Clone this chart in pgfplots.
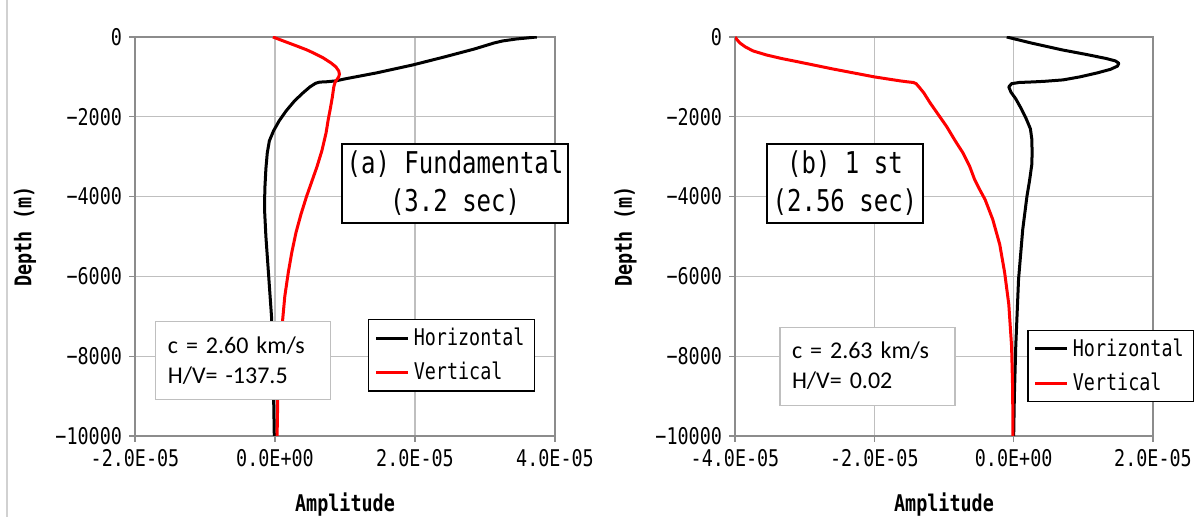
\documentclass[border=0pt]{standalone}
\usepackage{fontspec}
\setmainfont{DejaVu Sans Mono}[FakeStretch=0.8]
\newfontfamily\calfont{Carlito}
\usepackage{pgfplots}
\pgfplotsset{compat=1.18}

\pgfplotsset{
  depthax/.style={
    scale only axis, height=199.5pt, clip mode=individual,
    scaled x ticks=false, scaled y ticks=false,
    ymin=-10000, ymax=0,
    ytick={-10000,-8000,...,0},
    yticklabels={−10000,−8000,−6000,−4000,−2000,0},
    grid=major, major grid style={black!25, line width=0.6pt},
    axis line style={black!45, line width=0.6pt},
    tick style={black!45, line width=0.6pt},
    tick align=outside, major tick length=3pt,
    xtick pos=bottom, ytick pos=left,
    ticklabel style={font=\fontsize{11.5}{13}\selectfont},
    label style={font=\bfseries\fontsize{11.5}{13}\selectfont},
    xlabel={Amplitude}, ylabel={Depth (m)},
    xlabel style={at={(rel axis cs:0.5,-0.173)}, anchor=center},
    ylabel style={at={(rel axis cs:-0.262,0.5)}, anchor=center},
    legend cell align=left,
    legend style={draw=black, line width=0.7pt, fill=white,
      font=\fontsize{11.5}{13}\selectfont, inner xsep=3pt, inner ysep=2pt,
      row sep=3pt, anchor=north west},
    legend image code/.code={\draw[#1] (0pt,0pt) -- (16pt,0pt);},
    every axis plot/.append style={line width=1.5pt, line join=round},
  },
}
\tikzset{
  titlebox/.style={draw=black, line width=1pt, fill=white, align=center,
    font=\fontsize{15}{19}\selectfont, inner sep=0pt},
  cbox/.style={draw=black!25, line width=0.6pt, fill=white, align=left,
    font=\calfont\fontsize{12}{15}\selectfont, inner xsep=6pt, inner ysep=0pt,
    text width=75.5pt, minimum height=39pt},
}

\begin{document}
\begin{tikzpicture}
\path[use as bounding box] (0,0) rectangle (601.5pt,258.5pt);
\draw[black!18, line width=0.6pt] (3.5pt,0) -- (3.5pt,258.5pt);

% (a) fundamental mode
\begin{axis}[depthax, at={(67.5pt,40.5pt)}, anchor=south west,
  width=210pt,
  xmin=-2e-5, xmax=4e-5,
  xtick={-2e-5,0,2e-5,4e-5},
  xticklabels={-2.0E-05,0.0E+00,2.0E-05,4.0E-05},
  legend style={at={(0.555,0.293)}},
]
\addplot[black] coordinates {
  (3.74e-5,0) (3.45e-5,-50) (3.25e-5,-100) (3.13e-5,-150) (2.85e-5,-300)
  (2.42e-5,-500) (1.97e-5,-700) (1.45e-5,-900) (1.00e-5,-1050)
  (0.87e-5,-1100) (0.72e-5,-1125) (0.64e-5,-1130) (0.58e-5,-1160)
  (0.50e-5,-1250) (0.40e-5,-1400) (0.28e-5,-1600) (0.16e-5,-1850)
  (0.06e-5,-2100) (-0.02e-5,-2350) (-0.08e-5,-2600) (-0.11e-5,-2900)
  (-0.13e-5,-3300) (-0.145e-5,-3800) (-0.15e-5,-4300) (-0.13e-5,-5000)
  (-0.09e-5,-6000) (-0.05e-5,-7000) (-0.03e-5,-8000)
  (-0.02e-5,-9000) (-0.01e-5,-10000)
};
\addlegendentry{Horizontal}
\addplot[red] coordinates {
  (-0.03e-5,0) (0.12e-5,-100) (0.31e-5,-225) (0.45e-5,-320) (0.55e-5,-400)
  (0.69e-5,-525) (0.80e-5,-650) (0.87e-5,-750) (0.91e-5,-850)
  (0.92e-5,-930) (0.91e-5,-1000) (0.88e-5,-1080) (0.86e-5,-1125)
  (0.84e-5,-1250) (0.82e-5,-1500) (0.79e-5,-1800) (0.76e-5,-2075)
  (0.73e-5,-2400) (0.67e-5,-2850) (0.60e-5,-3250) (0.53e-5,-3600)
  (0.45e-5,-4000) (0.37e-5,-4450) (0.30e-5,-4900) (0.24e-5,-5400)
  (0.19e-5,-5900) (0.14e-5,-6500) (0.11e-5,-7075) (0.07e-5,-8000)
  (0.04e-5,-9000) (0.03e-5,-10000)
};
\addlegendentry{Vertical}
\node[titlebox, minimum width=113pt, minimum height=39.5pt]
  at (rel axis cs:0.762,0.633) {(a) Fundamental\\(3.2 sec)};
\node[cbox] at (rel axis cs:0.258,0.19) {c = 2.60 km/s\\H/V= -137.5};
\end{axis}

% (b) first higher mode
\begin{axis}[depthax, at={(367.5pt,40.5pt)}, anchor=south west,
  width=209pt,
  xmin=-4e-5, xmax=2e-5,
  xtick={-4e-5,-2e-5,0,2e-5},
  xticklabels={-4.0E-05,-2.0E-05,0.0E+00,2.0E-05},
  legend style={at={(0.699,0.266)}},
]
\addplot[black] coordinates {
  (-0.10e-5,0) (0.25e-5,-150) (0.70e-5,-325) (1.05e-5,-440) (1.33e-5,-540)
  (1.46e-5,-600) (1.51e-5,-660) (1.49e-5,-730) (1.39e-5,-810)
  (1.20e-5,-900) (0.95e-5,-1000) (0.71e-5,-1075) (0.45e-5,-1110)
  (0.29e-5,-1125) (0.08e-5,-1140) (-0.03e-5,-1170) (-0.07e-5,-1250)
  (-0.04e-5,-1380) (0.03e-5,-1550) (0.11e-5,-1800) (0.18e-5,-2050)
  (0.24e-5,-2300) (0.26e-5,-2550) (0.265e-5,-2900) (0.26e-5,-3200)
  (0.23e-5,-3575) (0.19e-5,-4000) (0.13e-5,-4825) (0.07e-5,-6075)
  (0.03e-5,-7750) (0.01e-5,-9000) (0.00e-5,-10000)
};
\addlegendentry{Horizontal}
\addplot[red] coordinates {
  (-4.00e-5,0) (-3.98e-5,-50) (-3.93e-5,-150) (-3.85e-5,-250)
  (-3.74e-5,-350) (-3.55e-5,-450) (-3.33e-5,-540) (-3.11e-5,-617)
  (-2.85e-5,-710) (-2.60e-5,-800) (-2.30e-5,-900) (-2.00e-5,-1000)
  (-1.63e-5,-1100) (-1.52e-5,-1125) (-1.44e-5,-1140) (-1.40e-5,-1170)
  (-1.36e-5,-1250) (-1.29e-5,-1400) (-1.20e-5,-1650) (-1.10e-5,-1900)
  (-0.96e-5,-2250) (-0.84e-5,-2600) (-0.73e-5,-2900) (-0.63e-5,-3250)
  (-0.56e-5,-3575) (-0.48e-5,-3850) (-0.41e-5,-4075) (-0.30e-5,-4575)
  (-0.20e-5,-5200) (-0.13e-5,-5900) (-0.07e-5,-6700) (-0.03e-5,-7750)
  (-0.015e-5,-8800) (-0.01e-5,-10000)
};
\addlegendentry{Vertical}
\node[titlebox, minimum width=78pt, minimum height=39.5pt]
  at (rel axis cs:0.263,0.633) {(b) 1 st\\(2.56 sec)};
\node[cbox] at (rel axis cs:0.317,0.175) {c = 2.63 km/s\\H/V= 0.02};
\end{axis}
\end{tikzpicture}
\end{document}
